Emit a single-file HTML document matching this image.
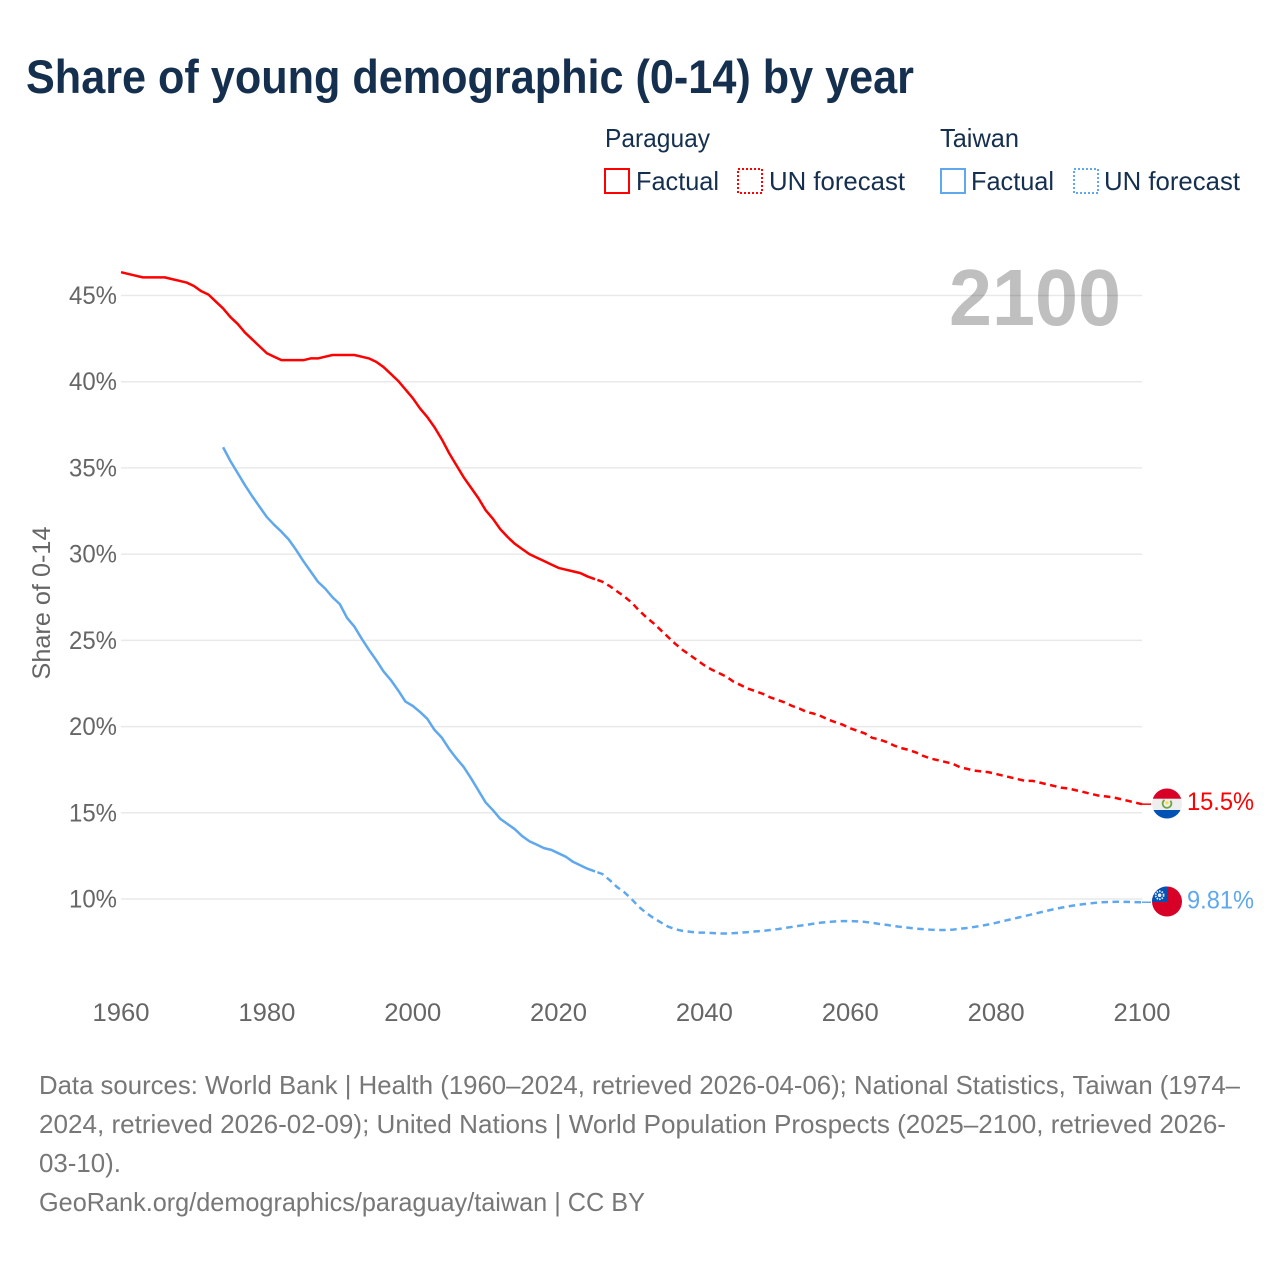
<!DOCTYPE html>
<html lang="en">
<head>
<meta charset="utf-8">
<title>Share of young demographic (0-14) by year</title>
<style>
html,body{margin:0;padding:0;background:#fff;width:1280px;height:1280px;overflow:hidden}
svg{display:block}
text{font-family:"Liberation Sans",sans-serif}
.navy{fill:#152f4f}
.tick{fill:#666;font-size:25px}
.foot{fill:#777;font-size:26px}
</style>
</head>
<body>
<svg id="chart" width="1280" height="1280" viewBox="0 0 1280 1280" xmlns="http://www.w3.org/2000/svg">
  <defs>
    <clipPath id="clip-py"><circle cx="1167" cy="803.5" r="15"/></clipPath>
    <clipPath id="clip-tw"><circle cx="1167" cy="901.5" r="15"/></clipPath>
  </defs>
  <text class="navy" x="26" y="93" font-size="47" font-weight="700" textLength="888" lengthAdjust="spacingAndGlyphs">Share of young demographic (0-14) by year</text>

  <g>
    <text class="navy" x="605" y="147" font-size="26" textLength="105" lengthAdjust="spacingAndGlyphs">Paraguay</text>
    <rect x="605" y="169" width="24" height="24" fill="none" stroke="#ff0000" stroke-width="2"/>
    <text class="navy" x="636" y="190" font-size="26" textLength="83" lengthAdjust="spacingAndGlyphs">Factual</text>
    <rect x="738" y="169" width="24" height="24" fill="none" stroke="#ff0000" stroke-width="2" stroke-dasharray="2 2"/>
    <text class="navy" x="769" y="190" font-size="26" textLength="136" lengthAdjust="spacingAndGlyphs">UN forecast</text>
    <text class="navy" x="940" y="147" font-size="26" textLength="79" lengthAdjust="spacingAndGlyphs">Taiwan</text>
    <rect x="941" y="169" width="24" height="24" fill="none" stroke="#5fa8ee" stroke-width="2"/>
    <text class="navy" x="971" y="190" font-size="26" textLength="83" lengthAdjust="spacingAndGlyphs">Factual</text>
    <rect x="1074" y="169" width="24" height="24" fill="none" stroke="#5fa8ee" stroke-width="2" stroke-dasharray="2 2"/>
    <text class="navy" x="1104" y="190" font-size="26" textLength="136" lengthAdjust="spacingAndGlyphs">UN forecast</text>
  </g>

  <g id="grid"></g>
  <g id="yticks"></g>
  <g id="xticks"></g>
  <text transform="translate(50,603) rotate(-90)" text-anchor="middle" fill="#666" font-size="25" textLength="153" lengthAdjust="spacingAndGlyphs">Share of 0-14</text>
  <text x="949" y="325" fill="#000" fill-opacity="0.25" font-size="80" font-weight="700" textLength="172" lengthAdjust="spacingAndGlyphs">2100</text>
  <g id="lines"></g>

  <g clip-path="url(#clip-py)">
    <rect x="1150" y="786" width="34" height="35" fill="#eeeeee"/>
    <rect x="1150" y="786" width="34" height="12.7" fill="#d80027"/>
    <rect x="1150" y="810" width="34" height="11" fill="#0052b4"/>
    <circle cx="1167" cy="803.5" r="4.400" fill="none" stroke="#6da544" stroke-width="1.800" stroke-dasharray="21 6.600" transform="rotate(-40 1167 803.5)"/>
    <circle cx="1167" cy="802.8" r="1.600" fill="#ffda44"/>
  </g>
  <text x="1187" y="810" fill="#ff0000" font-size="25" textLength="67" lengthAdjust="spacingAndGlyphs">15.5%</text>

  <g clip-path="url(#clip-tw)">
    <rect x="1150" y="884" width="34" height="35" fill="#d80027"/>
    <rect x="1150" y="884" width="17" height="18" fill="#0052b4"/>
    <circle cx="1159.6" cy="895.2" r="4" fill="none" stroke="#eeeeee" stroke-width="1.800" stroke-dasharray="1.500 1.100"/>
    <circle cx="1159.6" cy="895.2" r="1.800" fill="#eeeeee"/>
  </g>
  <text x="1187" y="908.500" fill="#5fa8ee" font-size="25" textLength="67" lengthAdjust="spacingAndGlyphs">9.81%</text>

  <g>
    <text class="foot" x="39" y="1094" textLength="1201" lengthAdjust="spacingAndGlyphs">Data sources: World Bank | Health (1960–2024, retrieved 2026-04-06); National Statistics, Taiwan (1974–</text>
    <text class="foot" x="39" y="1133" textLength="1187" lengthAdjust="spacingAndGlyphs">2024, retrieved 2026-02-09); United Nations | World Population Prospects (2025–2100, retrieved 2026-</text>
    <text class="foot" x="39" y="1172" textLength="82" lengthAdjust="spacingAndGlyphs">03-10).</text>
    <text class="foot" x="39" y="1211" textLength="606" lengthAdjust="spacingAndGlyphs">GeoRank.org/demographics/paraguay/taiwan | CC BY</text>
  </g>
</svg>
<script>
const xTickYears = [1960, 1980, 2000, 2020, 2040, 2060, 2080, 2100];
const yTickValues = [10, 15, 20, 25, 30, 35, 40, 45];

const paraguayFactualStart = 1960;
const paraguayFactual = [
  46.35,46.25,46.15,46.05,46.05,46.05,46.05,45.95,45.85,45.75,
  45.55,45.25,45.05,44.65,44.25,43.75,43.35,42.85,42.45,42.05,
  41.65,41.45,41.25,41.25,41.25,41.25,41.35,41.35,41.45,41.55,
  41.55,41.55,41.55,41.45,41.35,41.15,40.85,40.45,40.05,39.55,
  39.05,38.45,37.95,37.35,36.65,35.85,35.15,34.45,33.85,33.25,
  32.55,32.05,31.45,31.0,30.6,30.3,30.0,29.8,29.6,29.4,
  29.2,29.1,29.0,28.9,28.7,28.55
];
const paraguayForecastStart = 2025;
const paraguayForecast = [
  28.55,28.4,28.15,27.85,27.55,27.2,26.75,26.35,26.0,25.6,
  25.2,24.8,24.45,24.15,23.85,23.55,23.3,23.1,22.9,22.6,
  22.4,22.2,22.05,21.9,21.7,21.55,21.4,21.2,21.05,20.85,
  20.75,20.6,20.4,20.25,20.1,19.9,19.75,19.6,19.35,19.25,
  19.1,18.9,18.75,18.65,18.5,18.3,18.15,18.05,17.95,17.85,
  17.65,17.55,17.45,17.4,17.35,17.25,17.15,17.05,16.95,16.85,
  16.85,16.75,16.65,16.55,16.45,16.4,16.3,16.2,16.1,16.0,
  15.95,15.9,15.8,15.7,15.6,15.5
];

const taiwanFactualStart = 1974;
const taiwanFactual = [
  36.2,35.4,34.7,34.0,33.35,32.75,32.15,31.7,31.3,30.85,
  30.25,29.6,29.0,28.4,28.0,27.5,27.1,26.3,25.8,25.1,
  24.45,23.85,23.2,22.7,22.1,21.45,21.2,20.85,20.45,19.8,
  19.35,18.7,18.15,17.65,17.0,16.3,15.6,15.15,14.65,14.35,
  14.05,13.65,13.35,13.15,12.95,12.85,12.65,12.45,12.15,11.95,
  11.75,11.6
];
const taiwanForecastStart = 2025;
const taiwanForecast = [
  11.6,11.45,11.1,10.7,10.4,10.0,9.55,9.2,8.9,8.65,
  8.4,8.25,8.15,8.1,8.05,8.05,8.03,8.0,8.0,8.02,
  8.05,8.08,8.12,8.15,8.2,8.25,8.32,8.38,8.45,8.5,
  8.57,8.63,8.67,8.7,8.72,8.72,8.7,8.67,8.62,8.55,
  8.5,8.43,8.38,8.33,8.28,8.25,8.22,8.2,8.2,8.22,
  8.27,8.32,8.38,8.45,8.53,8.62,8.72,8.82,8.92,9.02,
  9.12,9.22,9.32,9.42,9.5,9.58,9.65,9.7,9.75,9.8,
  9.82,9.83,9.84,9.83,9.82,9.81
];

const svgNS = 'http://www.w3.org/2000/svg';
const xScale = (year) => 121 + (year - 1960) * (1142 - 121) / 140;
const yScale = (value) => 899 - (value - 10) * 17.243;

const gridGroup = document.getElementById('grid');
const yTickGroup = document.getElementById('yticks');
const xTickGroup = document.getElementById('xticks');
const lineGroup = document.getElementById('lines');

yTickValues.forEach((value) => {
  const grid = document.createElementNS(svgNS, 'line');
  
  
  grid.setAttribute('x1', xScale(1960));
  grid.setAttribute('x2', xScale(2100));
  grid.setAttribute('y1', yScale(value));
  grid.setAttribute('y2', yScale(value));
  grid.setAttribute('stroke', '#e9e9e9');
  grid.setAttribute('stroke-width', '1.5');
  gridGroup.appendChild(grid);

  const label = document.createElementNS(svgNS, 'text');
  
  
  label.setAttribute('class', 'tick');
  label.setAttribute('x', 117);
  label.setAttribute('y', yScale(value) + 8.500);
  label.setAttribute('text-anchor', 'end');
  label.setAttribute('textLength', '48');
  label.setAttribute('lengthAdjust', 'spacingAndGlyphs');
  label.textContent = value + '%';
  yTickGroup.appendChild(label);
});

xTickYears.forEach((year) => {
  const label = document.createElementNS(svgNS, 'text');
  
  
  label.setAttribute('class', 'tick');
  label.setAttribute('x', xScale(year));
  label.setAttribute('y', 1021);
  label.setAttribute('text-anchor', 'middle');
  label.setAttribute('textLength', '57');
  label.setAttribute('lengthAdjust', 'spacingAndGlyphs');
  label.textContent = year;
  xTickGroup.appendChild(label);
});

function pathFrom(startYear, values) {
  return values.map((v, i) => (i ? 'L' : 'M') + xScale(startYear + i).toFixed(2) + ' ' + yScale(v).toFixed(2)).join(' ');
}

function drawSeries(name, color, startYear, values, dashed) {
  const path = document.createElementNS(svgNS, 'path');
  
  
  path.setAttribute('d', pathFrom(startYear, values));
  path.setAttribute('fill', 'none');
  path.setAttribute('stroke', color);
  path.setAttribute('stroke-width', '2.5');
  path.setAttribute('stroke-linejoin', 'round');
  if (dashed) {
    path.setAttribute('stroke-dasharray', '6.500 4.500');
    path.setAttribute('stroke-dashoffset', '8.500');
  }
  lineGroup.appendChild(path);
}

function drawConnector(name, color, value) {
  const link = document.createElementNS(svgNS, 'line');
  
  
  link.setAttribute('x1', xScale(2100));
  link.setAttribute('x2', xScale(2100) + 9);
  link.setAttribute('y1', yScale(value));
  link.setAttribute('y2', yScale(value));
  link.setAttribute('stroke', color);
  link.setAttribute('stroke-width', '1.5');
  lineGroup.appendChild(link);
}

drawSeries('paraguay-factual-line', '#ff0000', paraguayFactualStart, paraguayFactual, false);
drawSeries('paraguay-forecast-line', '#ff0000', paraguayForecastStart, paraguayForecast, true);
drawSeries('taiwan-factual-line', '#5fa8ee', taiwanFactualStart, taiwanFactual, false);
drawSeries('taiwan-forecast-line', '#5fa8ee', taiwanForecastStart, taiwanForecast, true);
drawConnector('paraguay-flag-connector', '#ff0000', paraguayForecast[paraguayForecast.length - 1]);
drawConnector('taiwan-flag-connector', '#5fa8ee', taiwanForecast[taiwanForecast.length - 1]);
</script>
</body>
</html>
